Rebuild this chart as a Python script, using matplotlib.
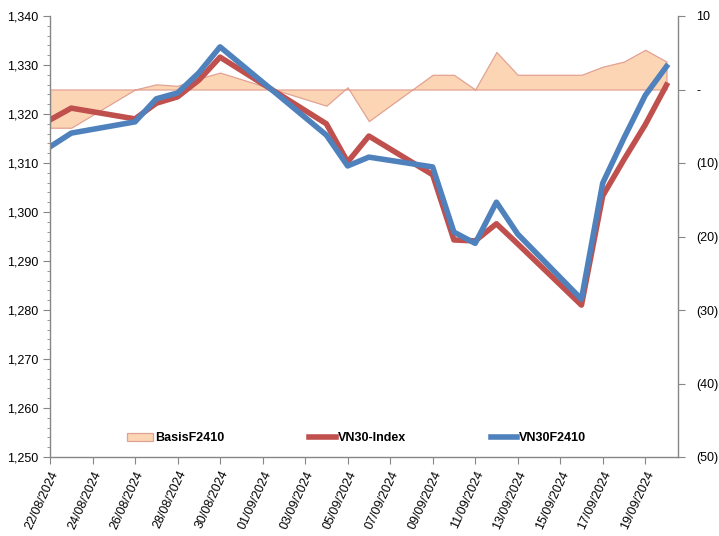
import matplotlib
matplotlib.use('Agg')
import matplotlib.pyplot as plt
import matplotlib.dates as mdates
import pandas as pd
import numpy as np

plt.rcParams['font.family'] = ['Liberation Sans', 'DejaVu Sans']

# trading days shown on the chart
dates = pd.to_datetime([
    '2024-08-22', '2024-08-23', '2024-08-26', '2024-08-27', '2024-08-28',
    '2024-08-29', '2024-08-30', '2024-09-04', '2024-09-05', '2024-09-06',
    '2024-09-09', '2024-09-10', '2024-09-11', '2024-09-12', '2024-09-13',
    '2024-09-16', '2024-09-17', '2024-09-18', '2024-09-19', '2024-09-20'])

vn30_index = [1318.8, 1321.2, 1319.0, 1322.2, 1323.5, 1326.9, 1331.6, 1318.0, 1310.2, 1315.5,
              1307.6, 1294.3, 1294.1, 1297.6, 1293.5, 1281.0, 1303.3, 1310.7, 1317.8, 1325.9]
vn30f2410 = [1313.3, 1316.1, 1318.4, 1323.1, 1324.3, 1328.4, 1333.7, 1315.7, 1309.4, 1311.2,
             1309.2, 1295.9, 1293.6, 1302.0, 1295.5, 1282.2, 1305.9, 1315.1, 1323.8, 1329.7]
basis = [-5.2, -5.2, 0.0, 0.7, 0.5, 1.5, 2.3, -2.2, 0.3, -4.3,
         2.0, 2.0, 0.0, 5.1, 2.0, 2.0, 3.1, 3.8, 5.4, 3.8]

left_ticks = list(range(1250, 1341, 10))
right_ticks = list(range(-50, 11, 10))
right_labels = ['(50)', '(40)', '(30)', '(20)', '(10)', '-', '10']

axis_gray = '#868686'

fig = plt.figure(figsize=(7.19, 5.36), dpi=100)
ax = fig.add_axes([50/719, 1 - 457/536, (678 - 50)/719, (457 - 16)/536])
ax2 = ax.twinx()
ax.set_zorder(ax2.get_zorder() + 1)
ax.patch.set_visible(False)

# basis area on the secondary axis
area = ax2.fill_between(dates, 0, basis, facecolor='#FCD5B5', edgecolor='#E2A293',
                        linewidth=0.9, label='BasisF2410')

l1, = ax.plot(dates, vn30_index, color='#C0504D', lw=4, solid_joinstyle='round',
              label='VN30-Index')
l2, = ax.plot(dates, vn30f2410, color='#4F81BD', lw=4, solid_joinstyle='round',
              label='VN30F2410')

ax.set_ylim(1250, 1340)
ax2.set_ylim(-50, 10)
ax.set_xlim(dates[0], dates[-1] + pd.Timedelta(hours=13))

ax.set_yticks(left_ticks)
ax.set_yticklabels([f'{v:,}' for v in left_ticks])
ax.set_yticks(np.arange(1250, 1341, 2), minor=True)
ax2.set_yticks(right_ticks)
ax2.set_yticklabels(right_labels)

xt = pd.date_range('2024-08-22', '2024-09-19', freq='2D')
ax.set_xticks(xt)
ax.xaxis.set_major_formatter(mdates.DateFormatter('%d/%m/%Y'))
for lab in ax.get_xticklabels():
    lab.set_rotation(65)
    lab.set_ha('right')
    lab.set_rotation_mode('anchor')

for a in (ax, ax2):
    for s in a.spines.values():
        s.set_visible(False)
ax.spines['left'].set_visible(True)
ax.spines['bottom'].set_visible(True)
ax2.spines['right'].set_visible(True)
for s in (ax.spines['left'], ax.spines['bottom'], ax2.spines['right']):
    s.set_color(axis_gray)
    s.set_linewidth(1)

ax.tick_params(axis='both', which='major', direction='out', length=5, color=axis_gray,
               labelsize=9, labelcolor='black')
ax.tick_params(axis='y', which='minor', direction='out', length=2.5, color=axis_gray)
ax.tick_params(axis='x', which='minor', length=0)
ax2.tick_params(axis='y', direction='out', length=5, color=axis_gray, labelsize=9,
                labelcolor='black', pad=8)

leg = ax.legend(handles=[area, l1, l2], loc='center', bbox_to_anchor=(0.488, 0.042),
                ncol=3, frameon=False, columnspacing=6.8, handlelength=2.1,
                handletextpad=0.15, prop={'size': 9, 'weight': 'bold'})

fig.savefig('out.png', dpi=100)
